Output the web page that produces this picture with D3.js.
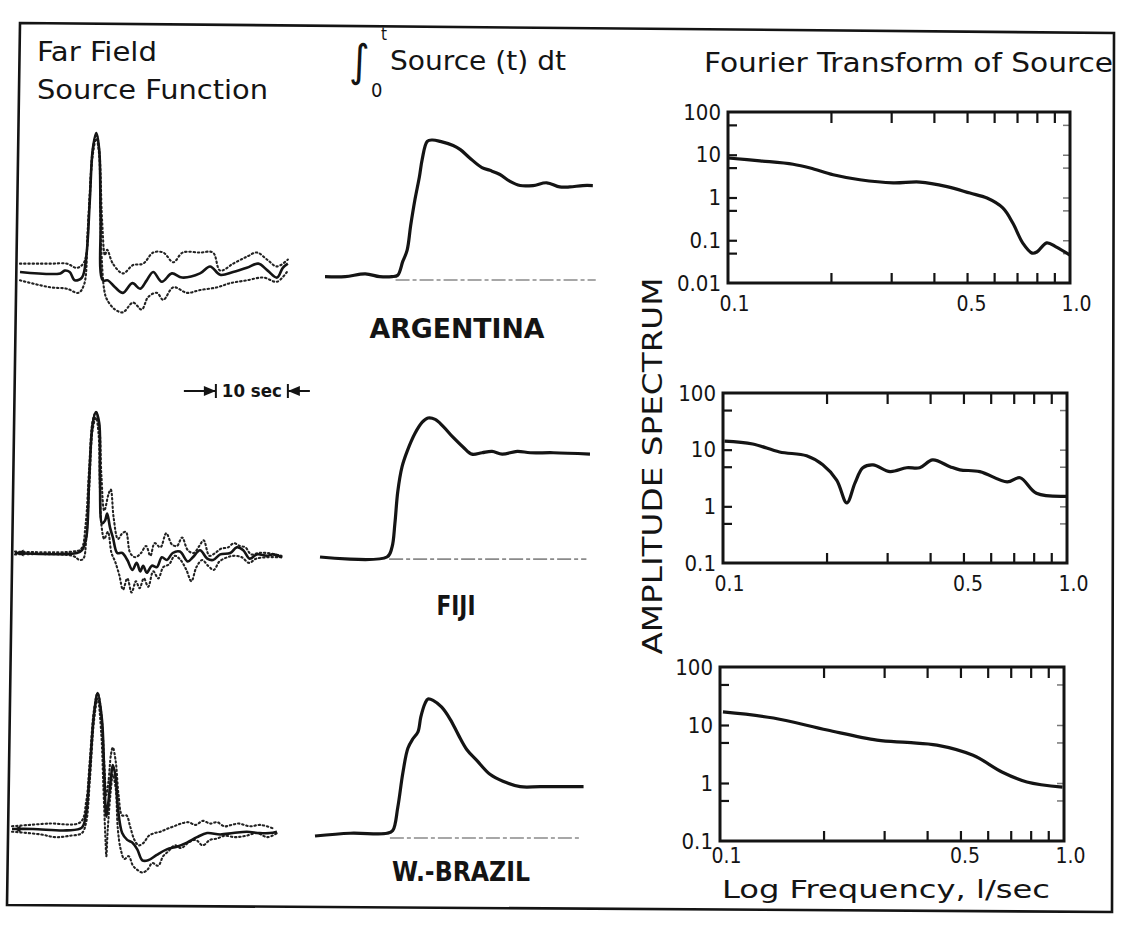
<!DOCTYPE html>
<html><head><meta charset="utf-8">
<script src="https://cdn.jsdelivr.net/npm/d3@7"></script>
<style>body{margin:0;background:#fff}</style>
</head><body>
<svg id="c" width="1124" height="936"></svg>
<script>
// ---------- DATA ----------
const events = ["ARGENTINA", "FIJI", "W.-BRAZIL"];

// Far field source function: [time s, relative amplitude]
const argFar = [[0,0],[5.6,-0.01],[6.2,0.01],[6.9,0],[7.6,-0.06],[8.6,-0.04],[9.2,0.11],[9.7,0.52],[10.1,0.88],[10.6,1.0],[11.0,0.88],[11.2,0.4],[11.5,-0.06],[12.2,-0.06],[13.2,-0.11],[14.3,-0.15],[15.6,-0.08],[16.7,-0.12],[17.6,-0.06],[18.5,0],[19.7,-0.07],[21.1,-0.01],[22.5,-0.04],[25.0,-0.01],[26.4,0.04],[27.8,-0.02],[29.6,0],[31.5,0.03],[33.1,0.06],[34.4,0.01],[35.7,-0.04],[36.5,0.03],[37.2,0.06]];
const argFarHi = [[0,0.06],[4.2,0.06],[6.5,0.06],[7.9,0.03],[8.9,0.07],[9.6,0.45],[10.1,0.88],[10.6,0.99],[11.0,0.88],[11.4,0.37],[11.8,0.12],[12.1,0.16],[12.9,0.06],[14.3,-0.01],[15.7,0.05],[17.1,0.06],[18.5,0.14],[19.9,0.14],[21.3,0.07],[22.6,0.14],[25.0,0.14],[26.8,0.14],[27.8,0.01],[29.6,0.06],[31.5,0.11],[32.9,0.14],[34.3,0.09],[35.7,0.04],[37.2,0.09]];
const argFarLo = [[0,-0.06],[4.2,-0.11],[6.5,-0.12],[8.1,-0.15],[8.9,-0.09],[9.4,0.3],[10.1,0.84],[10.6,0.96],[11.0,0.84],[11.2,0.3],[11.7,-0.13],[12.1,-0.2],[13.2,-0.27],[14.3,-0.29],[15.7,-0.22],[16.9,-0.27],[17.8,-0.18],[19.0,-0.15],[19.9,-0.2],[21.3,-0.11],[23.2,-0.15],[25,-0.13],[27.4,-0.11],[29.2,-0.08],[31.5,-0.06],[33.8,-0.04],[35.7,-0.07],[37.2,0.01]];

const fijiFar = [[0,0],[8.6,0],[9.3,0.02],[9.9,0.11],[10.3,0.52],[10.8,0.92],[11.25,1.0],[11.7,0.92],[11.8,0.52],[12.1,0.21],[12.5,0.23],[12.8,0.28],[13.2,0.18],[13.6,0.11],[14.2,0],[14.9,0],[15.6,-0.05],[16.3,-0.12],[16.9,-0.07],[17.4,-0.13],[17.8,-0.09],[18.3,-0.14],[19.0,-0.09],[19.7,-0.1],[20.4,-0.03],[21.1,-0.05],[21.9,0],[22.9,0.01],[24.0,-0.06],[24.7,-0.03],[25.7,0.02],[26.7,-0.04],[27.5,-0.05],[28.5,-0.01],[29.9,0],[30.8,0.04],[31.7,0.02],[32.6,-0.04],[33.6,-0.01],[35,-0.02],[35.8,-0.01],[37.1,-0.03]];
const fijiFarHi = [[0,0.01],[8,0.01],[9.2,0.03],[9.8,0.2],[10.3,0.6],[10.8,0.94],[11.25,1.0],[11.7,0.9],[12.0,0.55],[12.4,0.3],[13.0,0.42],[13.3,0.45],[13.7,0.25],[14.3,0.1],[14.9,0.14],[15.4,0.15],[16.0,0.0],[16.7,-0.03],[17.5,0.0],[18.2,0.05],[18.8,-0.02],[19.4,0.07],[20.2,0.04],[21.0,0.14],[21.8,0.06],[22.5,0.05],[23.2,0.11],[24.0,0.02],[24.8,0.0],[25.6,0.05],[26.2,0.09],[27.0,-0.02],[27.8,0.0],[28.6,0.03],[29.6,0.04],[30.4,0.07],[31.2,0.05],[32.0,0.04],[32.8,-0.01],[33.8,0.0],[35,0.0],[37,-0.02]];
const fijiFarLo = [[0,-0.01],[8,-0.02],[9.0,-0.05],[9.5,-0.04],[9.9,0.1],[10.3,0.45],[10.8,0.88],[11.25,0.96],[11.6,0.85],[11.8,0.45],[12.0,0.2],[12.4,0.1],[12.9,0.15],[13.4,0.0],[13.9,-0.06],[14.5,-0.16],[15.0,-0.26],[15.6,-0.18],[16.2,-0.28],[16.8,-0.2],[17.3,-0.25],[17.9,-0.18],[18.5,-0.24],[19.2,-0.13],[19.9,-0.18],[20.6,-0.1],[21.4,-0.08],[22.2,-0.02],[23.0,-0.05],[23.8,-0.12],[24.5,-0.2],[25.2,-0.1],[26.0,-0.05],[26.8,-0.09],[27.6,-0.12],[28.4,-0.06],[29.5,-0.03],[30.5,-0.02],[31.5,-0.03],[32.5,-0.07],[33.5,-0.04],[35,-0.03],[37,-0.03]];

const brazFar = [[0,0],[2.9,0],[7.6,-0.01],[9.7,0.01],[10.3,0.12],[10.8,0.43],[11.4,0.85],[11.9,1.0],[12.5,0.8],[12.8,0.43],[13.1,0.09],[13.3,0.16],[13.75,0.38],[14.0,0.47],[14.4,0.38],[14.7,0.16],[15.3,-0.03],[16.0,-0.08],[16.7,-0.1],[17.4,-0.15],[18.1,-0.23],[18.9,-0.23],[20.1,-0.19],[21.5,-0.15],[22.9,-0.13],[24.3,-0.1],[25.7,-0.06],[27.1,-0.03],[28.9,-0.04],[30.7,-0.03],[32.6,-0.02],[34.4,-0.03],[35.8,-0.03],[36.8,-0.02]];
const brazFarHi = [[0,0.02],[5,0.04],[9.5,0.05],[10.3,0.2],[10.8,0.5],[11.4,0.88],[11.9,1.0],[12.4,0.85],[12.8,0.5],[13.1,0.25],[13.4,0.35],[13.75,0.55],[14.0,0.6],[14.4,0.5],[14.8,0.25],[15.3,0.1],[15.9,0.1],[16.4,0.02],[17.0,-0.08],[17.6,-0.12],[18.3,-0.1],[19.0,-0.05],[19.8,-0.03],[20.6,-0.02],[21.5,0.0],[22.5,0.02],[23.5,0.04],[24.5,0.05],[25.5,0.03],[26.5,0.06],[27.5,0.04],[28.5,0.05],[29.5,0.02],[30.5,0.03],[31.5,0.04],[33,0.02],[34.5,0.03],[36.5,0.0]];
const brazFarLo = [[0,-0.02],[4,-0.04],[6,-0.06],[8,-0.05],[9.7,-0.03],[10.3,0.05],[10.8,0.35],[11.4,0.8],[11.9,0.96],[12.4,0.7],[12.7,0.3],[13.0,-0.1],[13.1,-0.2],[13.3,0.0],[13.75,0.3],[14.0,0.4],[14.4,0.3],[14.7,0.0],[15.1,-0.15],[15.6,-0.22],[16.2,-0.2],[16.8,-0.27],[17.4,-0.3],[18.1,-0.32],[18.8,-0.3],[19.5,-0.25],[20.3,-0.27],[21.0,-0.2],[21.8,-0.16],[22.6,-0.12],[23.5,-0.14],[24.5,-0.1],[25.5,-0.08],[26.5,-0.12],[27.5,-0.08],[28.5,-0.07],[29.5,-0.05],[31,-0.06],[32.5,-0.05],[34,-0.03],[35.5,-0.06],[36.8,-0.03]];

// Integrated source (moment function): [time s, relative value]
const argInt = [[0,0.01],[2.8,0.01],[5.6,0.03],[7.6,0.01],[9.3,0.01],[10.1,0.02],[10.8,0.12],[11.4,0.2],[11.9,0.38],[12.5,0.57],[13.1,0.73],[13.5,0.86],[14.2,0.99],[14.9,1.0],[16.0,0.99],[17.8,0.96],[18.8,0.93],[20.1,0.87],[21.8,0.8],[22.9,0.78],[24.3,0.75],[25.7,0.7],[27.1,0.67],[28.9,0.67],[30.8,0.69],[32.6,0.66],[34.0,0.66],[35.8,0.67],[37.2,0.67]];
const fijiInt = [[0,0],[9.3,0],[10.0,0.07],[10.4,0.24],[10.8,0.47],[11.4,0.65],[12.1,0.76],[13.2,0.89],[14.2,0.97],[15.0,1.0],[16.0,0.99],[17.1,0.94],[18.5,0.86],[19.9,0.79],[21.1,0.74],[22.5,0.75],[23.9,0.76],[25.3,0.74],[27.4,0.76],[29.2,0.75],[32.4,0.75],[37.5,0.74]];
const brazInt = [[0,0],[4.9,0.02],[10.0,0.02],[10.8,0.04],[11.5,0.21],[12.2,0.46],[12.9,0.64],[13.6,0.71],[14.3,0.76],[14.7,0.87],[15.3,0.97],[15.7,1.0],[16.4,0.99],[17.6,0.94],[18.8,0.85],[19.9,0.74],[21.1,0.63],[22.5,0.55],[24.3,0.45],[26.1,0.4],[28.5,0.36],[31.3,0.36],[37.3,0.36]];
const intBaseSpan = [[9.8,37.6],[9.6,37.0],[10.4,37.0]];

// Fourier amplitude spectra: [frequency 1/sec, amplitude]
const argSpec = [[0.1,8.4],[0.124,7.2],[0.155,6.0],[0.174,4.9],[0.203,3.4],[0.243,2.6],[0.304,2.2],[0.364,2.3],[0.437,1.8],[0.51,1.27],[0.572,0.97],[0.636,0.57],[0.681,0.25],[0.727,0.087],[0.775,0.05],[0.8,0.053],[0.855,0.087],[0.91,0.07],[1.0,0.045]];
const fijiSpec = [[0.101,14.2],[0.122,12.6],[0.146,9.1],[0.175,7.8],[0.195,5.4],[0.214,2.9],[0.229,1.15],[0.242,2.6],[0.255,4.8],[0.273,5.4],[0.306,4.1],[0.342,4.8],[0.373,4.8],[0.407,6.6],[0.457,5.0],[0.488,4.4],[0.558,4.1],[0.67,2.7],[0.73,3.2],[0.815,1.7],[1.0,1.5]];
const brazSpec = [[0.102,16.8],[0.143,13.2],[0.205,8.2],[0.286,5.5],[0.35,5.0],[0.427,4.5],[0.544,3.0],[0.66,1.55],[0.78,1.04],[0.99,0.85]];

const specYTicks = [[100,10,1,0.1,0.01],[100,10,1,0.1],[100,10,1,0.1]];
const specYMinor = [[50,10,5,1,0.5,0.1,0.05],[50,10,5,1,0.5],[50,10,5,1,0.5]];
const specXLabels = [0.1, 0.5, 1.0];
const specXMinor = [0.2,0.3,0.4,0.5,0.6,0.7,0.8,0.9];
const scaleBarSec = 10;

// ---------- LAYOUT ----------
const svg = d3.select("#c");
const FONT = "'DejaVu Sans Condensed','DejaVu Sans',sans-serif";
const INK = "#141414";

// outer frame
svg.append("path")
  .attr("d", "M20,23 L1114,33 L1112,912 L7,905 Z")
  .attr("fill","none").attr("stroke",INK).attr("stroke-width",2.6);

function txt(x,y,s,size,len,opts={}){
  const t = svg.append("text").attr("x",x).attr("y",y).text(s)
    .attr("font-family",FONT).attr("font-size",size).attr("fill",INK)
    .attr("font-weight",opts.weight||"normal");
  if(len){ t.attr("textLength",len).attr("lengthAdjust","spacingAndGlyphs"); }
  if(opts.anchor) t.attr("text-anchor",opts.anchor);
  if(opts.rotate) t.attr("transform",opts.rotate);
  return t;
}
// titles
txt(37,61,"Far Field",26,120);
txt(37,99,"Source Function",26,231);
txt(349,76,"∫",44,null);
txt(381,40,"t",17,null);
txt(371,97,"0",20,null);
txt(390,70,"Source (t) dt",26,176);
txt(704,72,"Fourier Transform of Source",26,409);

const farRows = [
  {x0:20, base:272, h:139, solid:argFar, hi:argFarHi, lo:argFarLo},
  {x0:15, base:553, h:141, solid:fijiFar, hi:fijiFarHi, lo:fijiFarLo},
  {x0:12, base:829, h:136, solid:brazFar, hi:brazFarHi, lo:brazFarLo}
];
const intRows = [
  {x0:325, base:278, h:138, d:argInt},
  {x0:320, base:557, h:139, d:fijiInt},
  {x0:315, base:836, h:137, d:brazInt}
];
const nameLab = [{x:457,y:338,len:175},{x:456,y:615,len:39},{x:461,y:881,len:138}];
const specRows = [
  {x:[728,1070], y:[283,112], dom:[0.01,100], d:argSpec, labY:312},
  {x:[723,1067], y:[563,393], dom:[0.1,100], d:fijiSpec, labY:592},
  {x:[720,1064], y:[841,667], dom:[0.1,100], d:brazSpec, labY:864}
];
const PXS = 7.2; // px per second

farRows.forEach((r,i)=>{
  const x = d3.scaleLinear().domain([0,37.5]).range([r.x0, r.x0+37.5*PXS]);
  const y = d3.scaleLinear().domain([0,1]).range([r.base, r.base-r.h]);
  const ln = d3.line().x(d=>x(d[0])).y(d=>y(d[1])).curve(d3.curveCatmullRom.alpha(0.5));
  [r.hi, r.lo].forEach(dd=>{
    svg.append("path").attr("d",ln(dd)).attr("fill","none").attr("stroke","#222")
      .attr("stroke-width",2.1).attr("stroke-dasharray","1.4,2.8").attr("stroke-linecap","round");
  });
  svg.append("path").attr("d",ln(r.solid)).attr("fill","none").attr("stroke",INK)
    .attr("stroke-width",2.6).attr("stroke-linejoin","round");
  if(i>0){
    svg.append("path").attr("d", d3.symbol().type(d3.symbolTriangle).size(22)())
      .attr("transform",`translate(${x(0.9)},${y(0)}) rotate(-90)`).attr("fill",INK);
  }
});

// 10 sec scale bar (uses Fiji time scale)
{
  const x = d3.scaleLinear().domain([0,37.5]).range([15, 15+37.5*PXS]);
  const t0 = 27.9, yb = 391;
  const xa = x(t0), xb = x(t0+scaleBarSec);
  const g = svg.append("g").attr("stroke",INK).attr("stroke-width",2);
  g.append("line").attr("x1",xa-32).attr("x2",xa).attr("y1",yb).attr("y2",yb);
  g.append("line").attr("x1",xb).attr("x2",xb+22).attr("y1",yb).attr("y2",yb);
  g.append("line").attr("x1",xa).attr("x2",xa).attr("y1",yb-7).attr("y2",yb+7);
  g.append("line").attr("x1",xb).attr("x2",xb).attr("y1",yb-7).attr("y2",yb+7);
  svg.append("path").attr("d",`M${xa},${yb} L${xa-12},${yb-5} L${xa-12},${yb+5} Z`).attr("fill",INK);
  svg.append("path").attr("d",`M${xb},${yb} L${xb+12},${yb-5} L${xb+12},${yb+5} Z`).attr("fill",INK);
  txt((xa+xb)/2, yb+6, "10 sec", 17, 60, {anchor:"middle", weight:"bold"});
}

intRows.forEach((r,i)=>{
  const x = d3.scaleLinear().domain([0,37.5]).range([r.x0, r.x0+37.5*PXS]);
  const y = d3.scaleLinear().domain([0,1]).range([r.base, r.base-r.h]);
  const sp = intBaseSpan[i];
  svg.append("line").attr("x1",x(sp[0])).attr("x2",x(sp[1]))
    .attr("y1",y(-0.015)).attr("y2",y(-0.015))
    .attr("stroke","#8a8a8a").attr("stroke-width",1.6).attr("stroke-dasharray","14,3,4,3");
  const ln = d3.line().x(d=>x(d[0])).y(d=>y(d[1])).curve(d3.curveCatmullRom.alpha(0.5));
  svg.append("path").attr("d",ln(r.d)).attr("fill","none").attr("stroke",INK)
    .attr("stroke-width",3.2).attr("stroke-linejoin","round");
  const L = nameLab[i];
  txt(L.x, L.y, events[i], 26, L.len, {anchor:"middle", weight:"bold"});
});

specRows.forEach((r,i)=>{
  const x = d3.scaleLog().domain([0.1,1]).range(r.x);
  const y = d3.scaleLog().domain(r.dom).range(r.y);
  const g = svg.append("g");
  const tickStyle = (sel, col, w) => { sel.select(".domain").remove();
    sel.selectAll("line").attr("stroke",col).attr("stroke-width",w); sel.selectAll("text").remove(); };
  g.append("g").attr("transform",`translate(0,${r.y[0]})`)
    .call(d3.axisBottom(x).tickValues(specXMinor).tickSize(-10)).call(tickStyle, INK, 2.2);
  g.append("g").attr("transform",`translate(0,${r.y[1]})`)
    .call(d3.axisTop(x).tickValues(specXMinor).tickSize(-11)).call(tickStyle, INK, 2.2);
  g.append("g").attr("transform",`translate(${r.x[0]},0)`)
    .call(d3.axisLeft(y).tickValues(specYMinor[i]).tickSize(-9)).call(tickStyle, INK, 2.2);
  g.append("g").attr("transform",`translate(${r.x[1]},0)`)
    .call(d3.axisRight(y).tickValues(specYMinor[i]).tickSize(-7)).call(tickStyle, "#777", 1.5);
  g.append("rect").attr("x",r.x[0]).attr("y",r.y[1]).attr("width",r.x[1]-r.x[0]).attr("height",r.y[0]-r.y[1])
    .attr("fill","none").attr("stroke",INK).attr("stroke-width",3);
  const lab = g.append("g").attr("transform",`translate(${r.x[0]},0)`)
    .call(d3.axisLeft(y).tickValues(specYTicks[i]).tickSize(0).tickPadding(7).tickFormat(d=>String(d)));
  lab.select(".domain").remove();
  lab.selectAll("text").attr("font-family",FONT).attr("font-size",22).attr("fill",INK);
  const xl = g.append("g").attr("transform",`translate(0,${r.labY-16})`)
    .call(d3.axisBottom(x).tickValues(specXLabels).tickSize(0).tickPadding(0).tickFormat(d3.format(".1f")));
  xl.select(".domain").remove();
  xl.selectAll("text").attr("font-family",FONT).attr("font-size",21).attr("fill",INK)
    .attr("transform",(d)=> d===0.1 ? "translate(6,0)" : (d===1 ? "translate(6,0)" : "translate(4,0)"));
  const ln = d3.line().x(d=>x(d[0])).y(d=>y(d[1])).curve(d3.curveCatmullRom.alpha(0.5));
  g.append("path").attr("d",ln(r.d)).attr("fill","none").attr("stroke",INK)
    .attr("stroke-width",3.2).attr("stroke-linejoin","round");
});

txt(0,0,"AMPLITUDE  SPECTRUM",26,377,{anchor:"middle", rotate:"translate(662,466) rotate(-90)"});
txt(722,898,"Log Frequency,  l/sec",25,328);
</script></body></html>
